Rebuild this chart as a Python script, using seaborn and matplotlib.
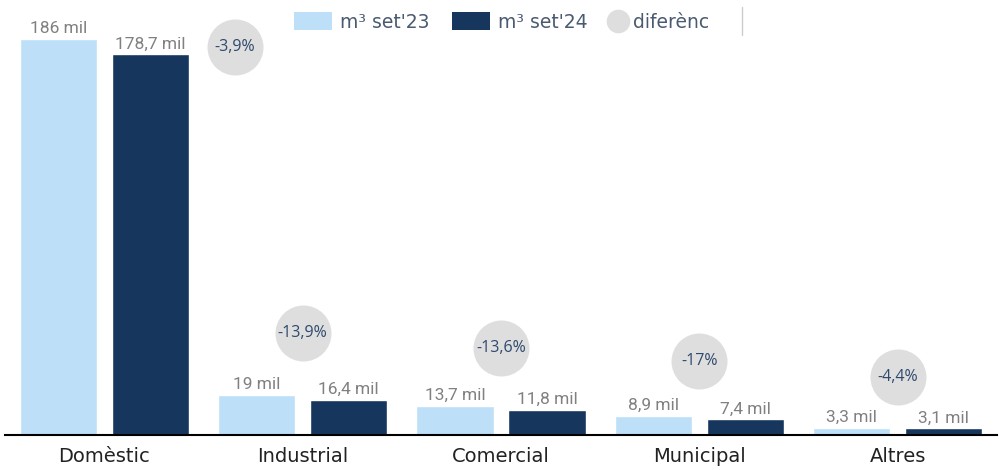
import matplotlib

matplotlib.use("Agg")

import matplotlib.pyplot as plt
import pandas as pd
import seaborn as sns
from matplotlib.lines import Line2D
from matplotlib.patches import Patch


# dades (milers de m³)
CATEGORIES = ["Domèstic", "Industrial", "Comercial", "Municipal", "Altres"]
M3_SET23 = [186, 19, 13.7, 8.9, 3.3]
M3_SET24 = [178.7, 16.4, 11.8, 7.4, 3.1]
DIFF_PCT = [-3.9, -13.9, -13.6, -17, -4.4]
SERIES = ["m³ set'23", "m³ set'24"]
DIFF_LABEL = "diferènc"

LIGHT = "#BDDFF8"
DARK = "#17365D"
CIRCLE = "#DEDEDE"
TEXT_BLUE = "#2E4A6E"
LEGEND_TEXT = "#4A5A70"
LABEL_GREY = "#808080"
BASE_FONT = ["Open Sans", "DejaVu Sans"]
WIDE_FONT = "DejaVu Sans"


def fmt_es(value: float) -> str:
    """Format amb coma decimal."""
    return f"{value:g}".replace(".", ",")


def main() -> None:
    sns.set_theme(style="white")
    plt.rcParams["font.family"] = BASE_FONT

    df = pd.DataFrame(
        {
            "categoria": CATEGORIES * 2,
            "valor": M3_SET23 + M3_SET24,
            "serie": [SERIES[0]] * len(CATEGORIES) + [SERIES[1]] * len(CATEGORIES),
        }
    )

    fig = plt.figure(figsize=(9.99, 4.70), dpi=100)
    ax = fig.add_axes([0.005, 0.0745, 0.993, 0.9065])

    sns.barplot(
        data=df,
        x="categoria",
        y="valor",
        hue="serie",
        palette=[LIGHT, DARK],
        width=0.927,
        gap=0.16,
        saturation=1,
        legend=False,
        ax=ax,
    )

    for container in ax.containers:
        labels = [fmt_es(bar.get_height()) + " mil" for bar in container]
        ax.bar_label(
            container,
            labels=labels,
            padding=2,
            color=LABEL_GREY,
            fontsize=12.5,
            family=["Roboto", "DejaVu Sans"],
        )

    # cercles de diferència: sobre les barres, o al costat si no hi caben
    for i, (v23, diff) in enumerate(zip(M3_SET23, DIFF_PCT)):
        y = 1.3 * v23 + 23
        x = i
        if y > 182:
            y = 182
            x = i + 0.66
        ax.scatter([x], [y], s=1625, color=CIRCLE, zorder=3, linewidths=0)
        ax.text(
            x, y, fmt_es(diff) + "%",
            ha="center", va="center", color=TEXT_BLUE, fontsize=11.5, zorder=4,
        )

    ax.set_xlim(-0.5, 4.5)
    ax.set_ylim(0, 200)
    ax.set_xlabel("")
    ax.set_ylabel("")
    ax.set_yticks([])
    ax.tick_params(axis="x", length=0, pad=9, labelsize=14, labelcolor="#222222")
    for label in ax.get_xticklabels():
        label.set_family(WIDE_FONT)
    for side in ["top", "left", "right"]:
        ax.spines[side].set_visible(False)
    ax.spines["bottom"].set_color("#000000")
    ax.spines["bottom"].set_linewidth(1.5)

    # llegenda: dues peces perquè el cercle té un handle més curt
    bar_handles = [
        Patch(facecolor=LIGHT, edgecolor="none"),
        Patch(facecolor=DARK, edgecolor="none"),
    ]
    fig.legend(
        bar_handles,
        SERIES,
        loc="center left",
        bbox_to_anchor=(0.294, 0.953),
        ncol=2,
        frameon=False,
        prop={"family": WIDE_FONT, "size": 13.5},
        labelcolor=LEGEND_TEXT,
        borderpad=0,
        borderaxespad=0,
        handlelength=2.05,
        handleheight=1.1,
        handletextpad=0.4,
        columnspacing=1.2,
    )
    circle_handle = Line2D([], [], marker="o", linestyle="none", markersize=17,
                           markerfacecolor=CIRCLE, markeredgecolor="none")
    fig.legend(
        [circle_handle],
        [DIFF_LABEL],
        loc="center left",
        bbox_to_anchor=(0.6076, 0.953),
        frameon=False,
        prop={"family": WIDE_FONT, "size": 13.5},
        labelcolor=LEGEND_TEXT,
        borderpad=0,
        borderaxespad=0,
        handlelength=1.22,
        handletextpad=0.15,
    )
    fig.add_artist(Line2D([0.743, 0.743], [0.925, 0.985], color="#CCCCCC", linewidth=1))

    fig.savefig("out.png", dpi=100)
    plt.close(fig)


if __name__ == "__main__":
    main()
